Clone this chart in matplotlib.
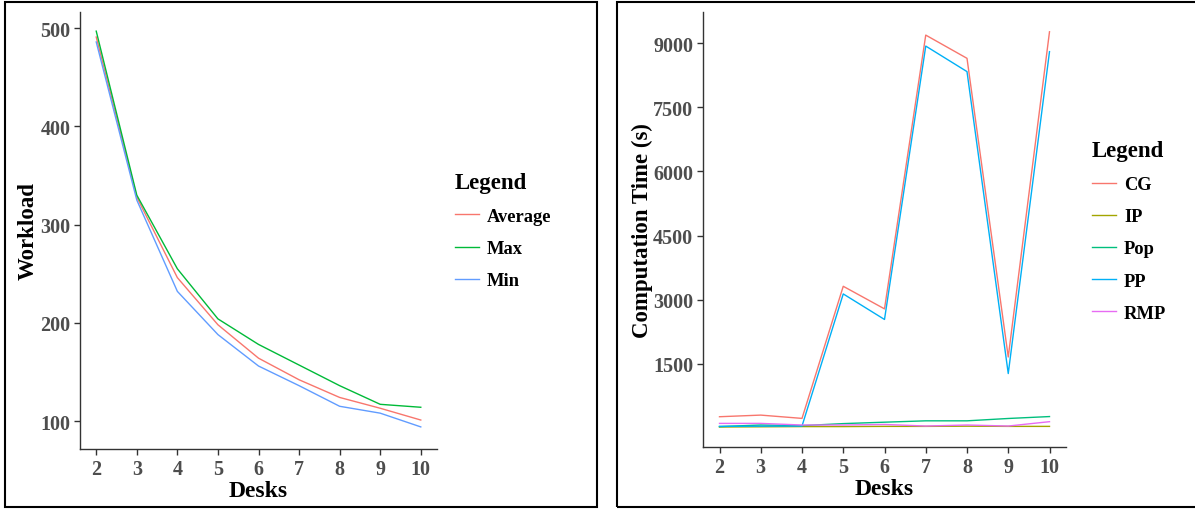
import numpy as np
import matplotlib.pyplot as plt
from matplotlib.patches import Rectangle

# Data
desks = [2, 3, 4, 5, 6, 7, 8, 9, 10]

wl_average = [491, 328, 246, 198, 164, 142, 124, 113, 101]
wl_max = [497, 330, 255, 204, 178, 157, 136, 117, 114]
wl_min = [486, 325, 232, 188, 156, 136, 115, 108, 94]

ct_cg = [256, 294, 217, 3311, 2782, 9194, 8650, 1655, 9272]
ct_ip = [15, 20, 25, 25, 30, 30, 35, 30, 30]
ct_pop = [25, 62, 47, 95, 128, 160, 160, 215, 260]
ct_pp = [30, 35, 38, 3132, 2534, 8937, 8339, 1267, 8806]
ct_rmp = [100, 100, 62, 62, 75, 38, 62, 38, 140]

ct_ticks = [1500, 3000, 4500, 6000, 7500, 9000]

plt.rcParams['font.family'] = ['Liberation Serif', 'DejaVu Serif']
plt.rcParams['font.weight'] = 'bold'

fig = plt.figure(figsize=(11.95, 5.1), dpi=100)

# panel frames
fig.patches.append(Rectangle((5 / 1195, 2 / 510), 592 / 1195, 505 / 510, transform=fig.transFigure,
                             fill=False, edgecolor='black', linewidth=1.5))
fig.patches.append(Rectangle((617 / 1195, 2 / 510), 600 / 1195, 505 / 510, transform=fig.transFigure,
                             fill=False, edgecolor='black', linewidth=1.5))

ax1 = fig.add_axes([80 / 1195, 60 / 510, 357 / 1195, 437 / 510])
ax2 = fig.add_axes([703 / 1195, 62 / 510, 363 / 1195, 435 / 510])


def style_axis(ax):
    for s in ['top', 'right']:
        ax.spines[s].set_visible(False)
    for s in ['left', 'bottom']:
        ax.spines[s].set_color('#333333')
        ax.spines[s].set_linewidth(1.0)
    ax.tick_params(colors='#333333', labelcolor='#4D4D4D', labelsize=14.5, length=4, width=1.0, pad=3)
    for lab in ax.get_xticklabels() + ax.get_yticklabels():
        lab.set_fontweight('bold')
    ax.set_xlim(1.6, 10.4)
    ax.set_xticks(desks)
    ax.set_xlabel('Desks', fontsize=17, fontweight='bold', labelpad=1)


def add_legend(ax, anchor, spacing):
    leg = ax.legend(title='Legend', loc='center left', bbox_to_anchor=anchor, frameon=False,
                    fontsize=13.3, title_fontsize=16.5, handlelength=1.3, handletextpad=0.45,
                    labelspacing=spacing)
    leg._legend_box.align = 'left'
    leg.get_title().set_fontweight('bold')
    return leg


# left: workload
ax1.plot(desks, wl_average, color='#F8766D', lw=1.0, label='Average')
ax1.plot(desks, wl_max, color='#00BA38', lw=1.0, label='Max')
ax1.plot(desks, wl_min, color='#619CFF', lw=1.0, label='Min')
ax1.set_ylim(71.5, 516.5)
ax1.set_yticks([100, 200, 300, 400, 500])
ax1.set_ylabel('Workload', fontsize=16.5, fontweight='bold', labelpad=1)
style_axis(ax1)
add_legend(ax1, (1.003, 0.5), 0.82)

# right: computation time
ax2.plot(desks, ct_cg, color='#F8766D', lw=1.0, label='CG')
ax2.plot(desks, ct_ip, color='#A3A500', lw=1.0, label='IP')
ax2.plot(desks, ct_pop, color='#00BF7D', lw=1.0, label='Pop')
ax2.plot(desks, ct_pp, color='#00B0F6', lw=1.0, label='PP')
ax2.plot(desks, ct_rmp, color='#E76BF3', lw=1.0, label='RMP')
ax2.set_ylim(-453, 9735)
ax2.set_yticks(ct_ticks)
ax2.set_ylabel('Computation Time (s)', fontsize=16.5, fontweight='bold', labelpad=0)
style_axis(ax2)
add_legend(ax2, (1.025, 0.497), 0.82)

fig.savefig('out.png', dpi=100)
